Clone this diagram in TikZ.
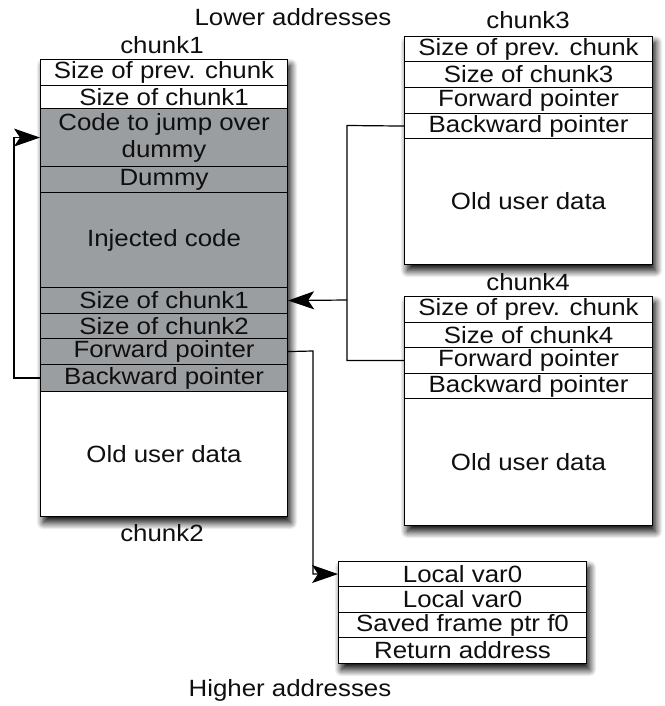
\documentclass[tikz,border=0pt]{standalone}
\usepackage{fontspec}
\setmainfont{Liberation Sans}[FakeStretch=1.1]
\usetikzlibrary{arrows.meta,shadows.blur}
\definecolor{cellgray}{RGB}{155,158,161}
\definecolor{ink}{RGB}{15,15,15}
\tikzset{
  cell/.style={draw=black, line width=1.1pt, fill=white, inner sep=0pt, anchor=north west,
    minimum width=#1, text=ink, align=center, font=\fontsize{23.5}{27}\selectfont},
  cell/.default=247pt,
  hot/.style={fill=cellgray},
  frame/.style={draw=black, line width=1.1pt, fill=white, inner sep=0pt, anchor=north west,
    blur shadow={shadow xshift=3pt, shadow yshift=-6pt, shadow blur radius=7pt,
      shadow blur steps=16, shadow opacity=100}},
  caption/.style={text=ink, font=\fontsize{23.5}{27}\selectfont},
  link/.style={draw=black, line width=1.2pt},
  ptr/.style={link, -{Stealth[length=26pt, width=18pt, inset=6pt]}}
}
\begin{document}
\begin{tikzpicture}[x=1pt, y=-1pt]
\useasboundingbox (0,0) rectangle (664,706);

% titles
\node[caption] (low) at (293,17) {Lower addresses};
\node[caption] (high) at (290,690) {Higher addresses};

% chunk1 / chunk2 (overwritten chunk)
\node[caption] (c1lab) at (162,45) {chunk1};
\node[frame, minimum width=247pt, minimum height=457pt] (c1box) at (40,59) {};
\node[cell, minimum height=26pt] (c1r1) at (40,59) {Size of prev. chunk};
\node[cell, minimum height=23pt] (c1r2) at (40,85) {Size of chunk1};
\node[cell, hot, minimum height=58pt] (c1r3) at (40,108) {Code to jump over\\dummy};
\node[cell, hot, minimum height=26pt] (c1r4) at (40,166) {Dummy};
\node[cell, hot, minimum height=95pt] (c1r5) at (40,192) {Injected code};
\node[cell, hot, minimum height=26pt] (c1r6) at (40,287) {Size of chunk1};
\node[cell, hot, minimum height=25pt] (c1r7) at (40,313) {Size of chunk2};
\node[cell, hot, minimum height=26pt] (c1r8) at (40,338) {Forward pointer};
\node[cell, hot, minimum height=27pt] (c1r9) at (40,364) {Backward pointer};
\node[cell, minimum height=125pt] (c1r10) at (40,391) {Old user data};
\node[caption] (c2lab) at (162,533) {chunk2};

% chunk3
\node[caption] (c3lab) at (528,20) {chunk3};
\node[frame, minimum width=248pt, minimum height=228pt] (c3box) at (404,36) {};
\node[cell=248pt, minimum height=25pt] (c3r1) at (404,36) {Size of prev. chunk};
\node[cell=248pt, minimum height=26pt] (c3r2) at (404,61) {Size of chunk3};
\node[cell=248pt, minimum height=26pt] (c3r3) at (404,87) {Forward pointer};
\node[cell=248pt, minimum height=25pt] (c3r4) at (404,113) {Backward pointer};
\node[cell=248pt, minimum height=126pt] (c3r5) at (404,138) {Old user data};

% chunk4
\node[caption] (c4lab) at (528,282) {chunk4};
\node[frame, minimum width=248pt, minimum height=229pt] (c4box) at (404,296) {};
\node[cell=248pt, minimum height=26pt] (c4r1) at (404,296) {Size of prev. chunk};
\node[cell=248pt, minimum height=25pt] (c4r2) at (404,322) {Size of chunk4};
\node[cell=248pt, minimum height=26pt] (c4r3) at (404,347) {Forward pointer};
\node[cell=248pt, minimum height=25pt] (c4r4) at (404,373) {Backward pointer};
\node[cell=248pt, minimum height=127pt] (c4r5) at (404,398) {Old user data};

% stack frame
\node[frame, minimum width=248pt, minimum height=102pt] (stbox) at (338,561) {};
\node[cell=248pt, minimum height=25pt] (st1) at (338,561) {Local var0};
\node[cell=248pt, minimum height=26pt] (st2) at (338,586) {Local var0};
\node[cell=248pt, minimum height=25pt] (st3) at (338,612) {Saved frame ptr f0};
\node[cell=248pt, minimum height=26pt] (st4) at (338,637) {Return address};

% pointers
\draw[ptr] (c1r9.west) -- ++(-26,0) |- (c1r3.west);
\coordinate (j) at (347,300);
\draw[link] (c3r4.west) -- (347,125.5) |- (c4r3.west);
\draw[ptr] (j) -- (c1r6.east);
\draw[ptr] (c1r8.east) -- (313,351) |- (st1.west);
\end{tikzpicture}
\end{document}
